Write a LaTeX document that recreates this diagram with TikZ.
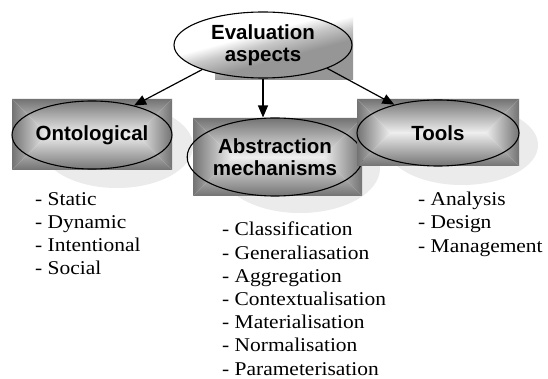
\documentclass[tikz,border=0pt]{standalone}
\usepackage{fontspec}
\setmainfont{Liberation Serif}
\newfontfamily\labelfont{Liberation Sans}
\newfontfamily\listfont[FakeStretch=1.1]{Liberation Serif}
\usetikzlibrary{arrows.meta,shapes.geometric}

\definecolor{bevdark}{RGB}{115,115,115}
\definecolor{bevlight}{RGB}{238,238,238}
\definecolor{shadowgray}{RGB}{235,235,235}
\definecolor{evalmid}{RGB}{200,200,200}
\definecolor{evalgray}{RGB}{150,150,150}

% Root fill: grey lower part fading quickly into white
\pgfdeclareverticalshading{evalfade}{100bp}{%
  color(0bp)=(evalgray); color(40bp)=(evalgray); color(50bp)=(evalmid);
  color(57bp)=(white); color(100bp)=(white)}

% Bevelled box: four shaded pieces, dark at the edges, light towards the ridge
\newcommand\bevelbox[4]{%
  \pgfmathsetmacro\bvH{(#4-#2)/2}%
  \pgfmathsetmacro\bvCy{(#2+#4)/2}%
  \pgfmathsetmacro\bvL{#1+\bvH}%
  \pgfmathsetmacro\bvR{#3-\bvH}%
  \shade[top color=bevdark,bottom color=bevlight] (#1,#2) -- (#3,#2) -- (\bvR,\bvCy) -- (\bvL,\bvCy) -- cycle;
  \shade[top color=bevlight,bottom color=bevdark] (#1,#4) -- (#3,#4) -- (\bvR,\bvCy) -- (\bvL,\bvCy) -- cycle;
  \shade[left color=bevdark,right color=bevlight] (#1,#2) -- (\bvL,\bvCy) -- (#1,#4) -- cycle;
  \shade[left color=bevlight,right color=bevdark] (#3,#2) -- (\bvR,\bvCy) -- (#3,#4) -- cycle;
}

\tikzset{
  aspect/.style={ellipse, draw=black, line width=1.1pt, inner sep=0pt, align=center,
    font=\labelfont\bfseries\fontsize{20.5}{22}\selectfont},
  evalshade/.style={shade, shading=evalfade, shading angle=15},
  link/.style={draw=black, line width=1.2pt, -{Triangle[length=12pt,width=10pt]}},
  itemlist/.style={anchor=north west, inner sep=0pt, align=left,
    font=\listfont\fontsize{19.5}{23.2}\selectfont},
  castshadow/.style={fill=shadowgray, draw=none}
}

\begin{document}
\begin{tikzpicture}[x=1pt,y=-1pt]
\useasboundingbox[fill=white] (0,0) rectangle (548,379);

% cast shadows
\path[castshadow] (117,146) ellipse [x radius=76, y radius=42];
\path[castshadow] (300,168) ellipse [x radius=80, y radius=45];
\path[castshadow] (462,145) ellipse [x radius=76, y radius=40];

% second-level aspects
\bevelbox{12}{99}{172}{170}
\node[aspect, minimum width=160pt, minimum height=68pt] (onto) at (92,135) {Ontological};

\bevelbox{193}{118}{362}{196}
\node[aspect, minimum width=164pt, minimum height=78pt] (abs) at (275,157) {Abstraction\\mechanisms};

\bevelbox{357}{99}{519}{166}
\node[aspect, minimum width=162pt, minimum height=66pt] (tools) at (438,133) {Tools};

% root
\shade[evalshade] (215,12) rectangle (353,80);
\node[aspect, minimum width=178pt, minimum height=66pt, evalshade] (eval) at (263,45) {Evaluation\\aspects};

% connectors
\draw[link] (eval.202) -- (onto.35);
\draw[link] (eval.south) -- (eval.south |- abs.north);
\draw[link] (eval.340) -- (tools.147);

% item lists
\node[itemlist] (ontolist) at (35,192) {- Static\\- Dynamic\\- Intentional\\- Social};
\node[itemlist] (abslist) at (222,222) {- Classification\\- Generaliasation\\- Aggregation\\- Contextualisation\\- Materialisation\\- Normalisation\\- Parameterisation};
\node[itemlist] (toollist) at (418,192) {- Analysis\\- Design\\- Management};
\end{tikzpicture}
\end{document}
